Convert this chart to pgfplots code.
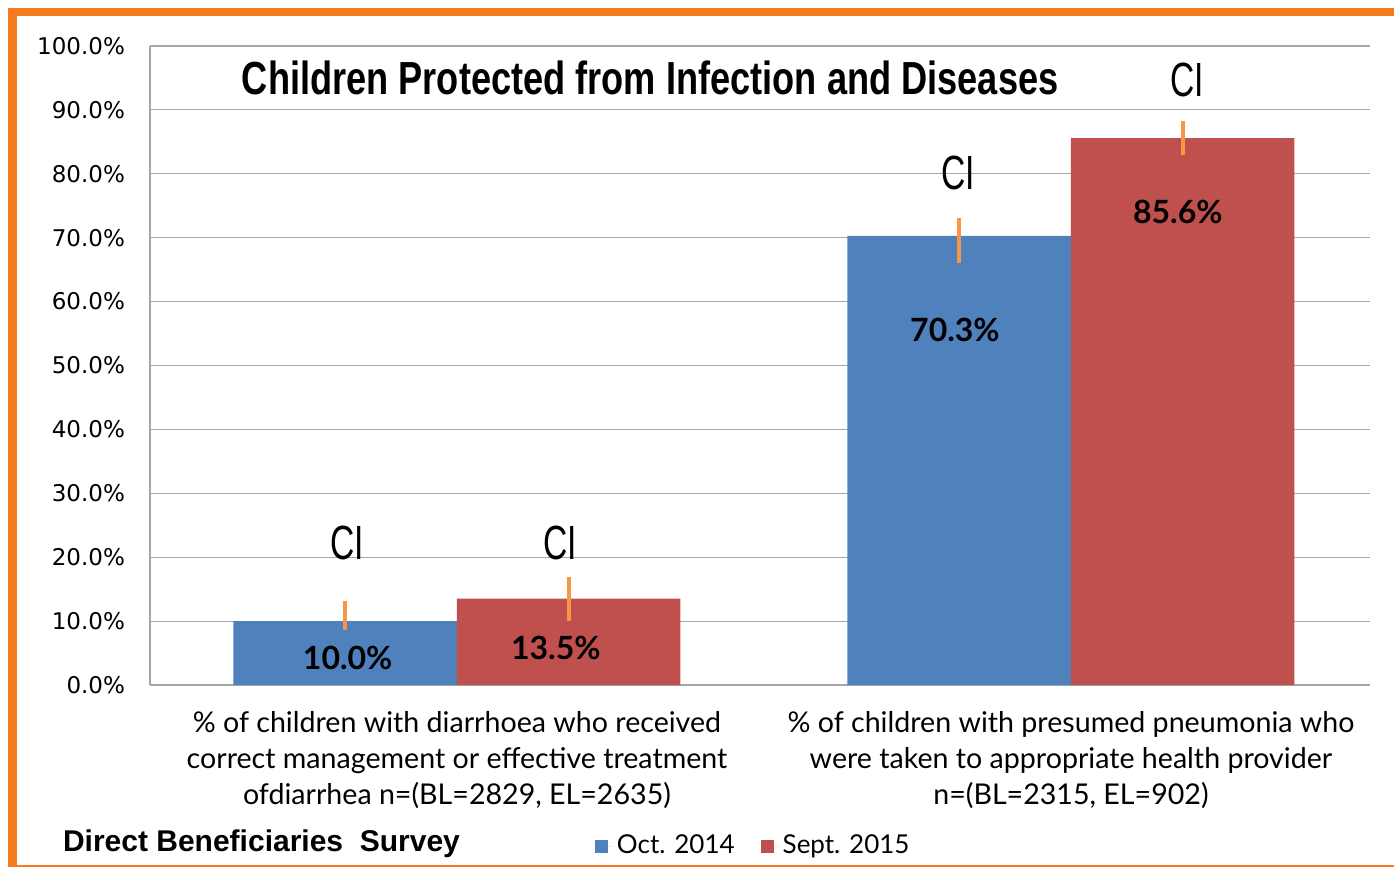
\documentclass[border=0pt]{standalone}
\usepackage{pgfplots}
\pgfplotsset{compat=1.18}
\usepackage{fontspec}
\setmainfont{Lato}
\newfontfamily\tickfont{DejaVu Sans}
\newfontfamily\narrowfont[FakeStretch=0.78]{Liberation Sans}
\newfontfamily\cifont[FakeStretch=0.7]{Liberation Sans}
\newfontfamily\arialfont{Liberation Sans}
\definecolor{barblue}{HTML}{4F81BD}
\definecolor{barred}{HTML}{C0504D}
\definecolor{errorange}{HTML}{F79646}
\definecolor{frameorange}{HTML}{F47B20}
\definecolor{gridgray}{HTML}{A6A6A6}
\begin{document}
\begin{tikzpicture}
\useasboundingbox (0,0) rectangle (697pt,434.5pt);
\fill[frameorange] (4pt,426.5pt) rectangle (697pt,430.5pt);
\fill[frameorange] (4pt,1pt) rectangle (8.5pt,430.5pt);
\fill[frameorange] (4pt,1pt) rectangle (697pt,2pt);
\begin{axis}[
  at={(75pt,92pt)}, anchor=south west,
  scale only axis, width=610pt, height=319.5pt,
  ybar=0pt, bar width=111.75pt,
  xmin=-0.5, xmax=1.487, ymin=0, ymax=100,
  axis x line=bottom, axis y line=left,
  axis line style={-, gridgray, line width=0.75pt},
  major tick length=0pt,
  ytick={0,10,...,100},
  ymajorgrids, grid style={gridgray, line width=0.6pt},
  yticklabel={\pgfmathprintnumber[fixed,fixed zerofill,precision=1]{\tick}\%},
  /pgf/number format/assume math mode=true,
  yticklabel style={font=\tickfont\fontsize{11.5}{13}\selectfont, xshift=-9pt},
  xtick={0,1},
  xticklabels={{\% of children with diarrhoea who received\\correct management or effective treatment\\ofdiarrhea n=(BL=2829, EL=2635)},
               {\% of children with presumed pneumonia who\\were taken to appropriate health provider\\n=(BL=2315, EL=902)}},
  xticklabel style={align=center, font=\fontsize{14.3}{18}\selectfont, yshift=-9.5pt},
  legend style={at={(rel axis cs:0.3595,-0.252)}, anchor=west, draw=none, fill=none,
    legend columns=2, font=\fontsize{13}{15}\selectfont,
    /tikz/every even column/.append style={column sep=11pt}},
  legend image code/.code={\path (0pt,0pt) -- (9pt,0pt);\fill[#1] (0pt,-3.25pt) rectangle (6.5pt,3.25pt);},
  error bars/y dir=both, error bars/y explicit,
  error bars/error mark=none,
  error bars/error bar style={line width=2pt, color=errorange},
]
\addplot[fill=barblue, draw=none] coordinates {
  (0,10.0) += (0,3.1) -= (0,1.4)
  (1,70.3) += (0,2.8) -= (0,4.3)
};
\addplot[fill=barred, draw=none] coordinates {
  (0,13.5) += (0,3.4) -= (0,3.5)
  (1,85.6) += (0,2.7) -= (0,2.7)
};
\legend{Oct. 2014, Sept. 2015}
\node[font=\narrowfont\bfseries\fontsize{23.2}{25}\selectfont] at (rel axis cs:0.41,0.95) {Children Protected from Infection and Diseases};
\node[font=\cifont\fontsize{24}{26}\selectfont] at (axis cs:-0.179,22.2) {CI};
\node[font=\cifont\fontsize{24}{26}\selectfont] at (axis cs:0.168,22.2) {CI};
\node[font=\cifont\fontsize{24}{26}\selectfont] at (axis cs:0.816,80.1) {CI};
\node[font=\cifont\fontsize{24}{26}\selectfont] at (axis cs:1.189,94.7) {CI};
\node[font=\bfseries\fontsize{16}{18}\selectfont] at (axis cs:-0.178,4.2) {10.0\%};
\node[font=\bfseries\fontsize{16}{18}\selectfont] at (axis cs:0.161,5.8) {13.5\%};
\node[font=\bfseries\fontsize{16}{18}\selectfont] at (axis cs:0.811,55.6) {70.3\%};
\node[font=\bfseries\fontsize{16}{18}\selectfont] at (axis cs:1.174,74.0) {85.6\%};
\end{axis}
\node[anchor=west, font=\arialfont\bfseries\fontsize{15}{17}\selectfont] at (28pt,12.5pt) {Direct Beneficiaries\ \ Survey};
\end{tikzpicture}
\end{document}
